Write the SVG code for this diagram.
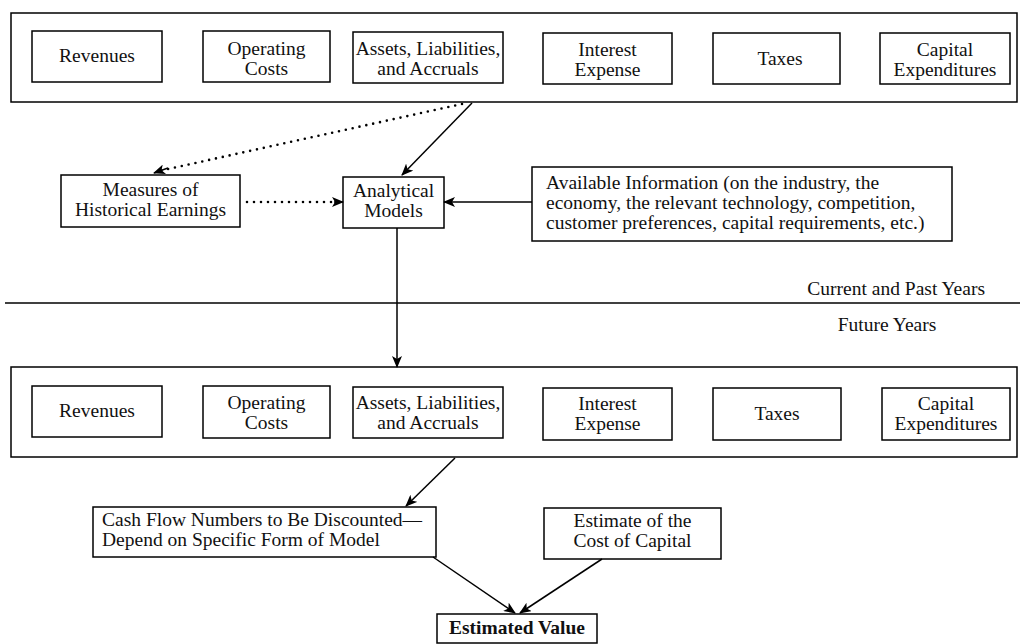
<svg xmlns="http://www.w3.org/2000/svg" width="1020" height="644" viewBox="0 0 1020 644">
<defs>
<marker id="ah" viewBox="0 0 12 10" refX="11" refY="5" markerWidth="12" markerHeight="10" markerUnits="userSpaceOnUse" orient="auto">
<path d="M0,0 L12,5 L0,10 L3,5 z" fill="#000"/>
</marker>
<style>
.box{fill:#fff;stroke:#000;stroke-width:1.5}
.frame{fill:none;stroke:#000;stroke-width:1.5}
text{font-family:"Liberation Serif","DejaVu Serif",serif;font-size:19.5px;fill:#111}
.c{text-anchor:middle}
.e{text-anchor:end}
.b{font-weight:bold}
.ln{fill:none;stroke:#000;stroke-width:1.5}
.dot{fill:none;stroke:#000;stroke-width:2.6;stroke-linecap:round;stroke-dasharray:0 7}
</style>
</defs>
<rect width="1020" height="644" fill="#fff"/>

<g id="current-frame"><rect class="frame" x="11" y="13" width="1006" height="89"/></g>
<g id="top-revenues"><rect class="box" x="32" y="31" width="130" height="51"/><text class="c" x="97" y="62">Revenues</text></g>
<g id="top-operating"><rect class="box" x="203" y="31" width="127" height="51"/><text class="c" x="266.5" y="55">Operating</text><text class="c" x="266.5" y="75">Costs</text></g>
<g id="top-assets"><rect class="box" x="353" y="32" width="150" height="51"/><text class="c" x="428" y="55">Assets, Liabilities,</text><text class="c" x="428" y="75">and Accruals</text></g>
<g id="top-interest"><rect class="box" x="543" y="33" width="129" height="51"/><text class="c" x="607.5" y="56">Interest</text><text class="c" x="607.5" y="76">Expense</text></g>
<g id="top-taxes"><rect class="box" x="713" y="33" width="127" height="51"/><text class="c" x="780" y="65">Taxes</text></g>
<g id="top-capex"><rect class="box" x="880" y="33" width="130" height="51"/><text class="c" x="945" y="56">Capital</text><text class="c" x="945" y="76">Expenditures</text></g>

<g id="measures"><rect class="box" x="61" y="175" width="179" height="52"/><text class="c" x="150.5" y="196">Measures of</text><text class="c" x="150.5" y="216">Historical Earnings</text></g>
<g id="analytical"><rect class="box" x="343" y="177" width="101" height="51"/><text class="c" x="393.5" y="197">Analytical</text><text class="c" x="393.5" y="217">Models</text></g>
<g id="available"><rect class="box" x="532" y="167" width="420" height="74"/>
<text x="546" y="189">Available Information (on the industry, the</text>
<text x="546" y="209">economy, the relevant technology, competition,</text>
<text x="546" y="229">customer preferences, capital requirements, etc.)</text></g>

<g id="period-divider"><line class="ln" x1="5" y1="303" x2="1020" y2="303"/>
<text class="e" x="985" y="295">Current and Past Years</text>
<text class="c" x="887" y="331">Future Years</text></g>

<g id="future-frame"><rect class="frame" x="11" y="367" width="1006" height="90"/></g>
<g id="bot-revenues"><rect class="box" x="32" y="386" width="130" height="51"/><text class="c" x="97" y="417">Revenues</text></g>
<g id="bot-operating"><rect class="box" x="203" y="386" width="127" height="52"/><text class="c" x="266.5" y="409">Operating</text><text class="c" x="266.5" y="429">Costs</text></g>
<g id="bot-assets"><rect class="box" x="353" y="387" width="150" height="51"/><text class="c" x="428" y="409">Assets, Liabilities,</text><text class="c" x="428" y="429">and Accruals</text></g>
<g id="bot-interest"><rect class="box" x="543" y="388" width="129" height="52"/><text class="c" x="607.5" y="410">Interest</text><text class="c" x="607.5" y="430">Expense</text></g>
<g id="bot-taxes"><rect class="box" x="713" y="388" width="128" height="52"/><text class="c" x="777" y="420">Taxes</text></g>
<g id="bot-capex"><rect class="box" x="882" y="388" width="128" height="52"/><text class="c" x="946" y="410">Capital</text><text class="c" x="946" y="430">Expenditures</text></g>

<g id="cashflow"><rect class="box" x="93" y="507" width="343" height="50"/><text x="102" y="526">Cash Flow Numbers to Be Discounted—</text><text x="102" y="546">Depend on Specific Form of Model</text></g>
<g id="costcap"><rect class="box" x="544" y="508" width="177" height="51"/><text class="c" x="632.5" y="527">Estimate of the</text><text class="c" x="632.5" y="547">Cost of Capital</text></g>
<g id="value"><rect class="box" x="437" y="614" width="160" height="29"/><text class="c b" x="517" y="634">Estimated Value</text></g>

<g id="connectors">
<line class="dot" x1="462" y1="104" x2="159" y2="171"/>
<path d="M168,168 L154,173" class="ln" marker-end="url(#ah)"/>
<line class="ln" x1="472" y1="103" x2="402" y2="175" marker-end="url(#ah)"/>
<line class="dot" x1="247" y1="202" x2="332" y2="202"/>
<path d="M334,202 L343,202" class="ln" marker-end="url(#ah)"/>
<line class="ln" x1="532" y1="202" x2="444" y2="202" marker-end="url(#ah)"/>
<line class="ln" x1="397" y1="228" x2="397" y2="367" marker-end="url(#ah)"/>
<line class="ln" x1="455" y1="458" x2="406" y2="506" marker-end="url(#ah)"/>
<line class="ln" x1="433" y1="557" x2="515" y2="613" marker-end="url(#ah)"/>
<line class="ln" x1="602" y1="559" x2="520" y2="613" marker-end="url(#ah)"/>
</g>
</svg>
